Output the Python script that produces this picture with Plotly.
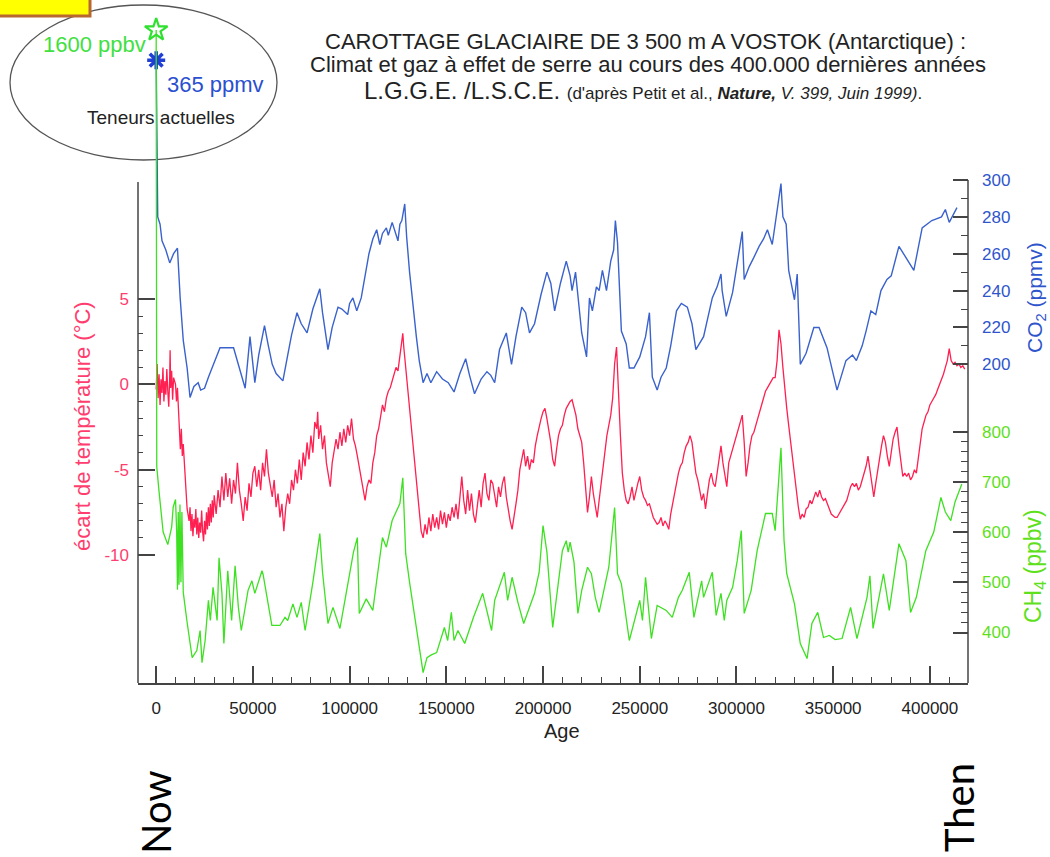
import plotly.graph_objects as go

# ---------------- DATA (ages in thousands of years) ----------------
temp_age = [
    0, 0.5, 1, 1.5, 2, 2.5, 3, 3.5, 4, 4.5,
    5, 5.5, 6, 6.5, 7, 7.2, 7.5, 8, 8.5, 9,
    10, 10.5, 11, 11.5, 12, 12.5, 13, 13.5, 14, 15,
    16, 17, 17.5, 18, 18.5, 19, 19.5, 20, 20.5, 21,
    21.5, 22, 22.5, 23, 23.5, 24, 24.5, 25, 25.5, 26,
    26.5, 27, 27.5, 28, 28.5, 29, 29.5, 30, 31, 32,
    33, 34, 35, 36, 37, 38, 39, 40, 41, 42,
    43, 44, 45, 46, 47, 48, 49, 50, 51, 52,
    53, 54, 55, 56, 57, 58, 59, 60, 61, 62,
    63, 64, 65, 66, 67, 68, 69, 70, 71, 72,
    73, 74, 75, 76, 77, 78, 79, 80, 81, 82,
    83, 83.5, 84, 85, 86, 87, 88, 89, 90, 91,
    92, 93, 94, 95, 96, 97, 98, 99, 100, 101,
    102, 103, 104, 105, 106, 107, 108, 109, 110, 111,
    112, 113, 114, 115, 116, 117, 118, 119, 120, 121,
    122, 123, 124, 125, 126, 127, 127.5, 128, 129, 130,
    131, 132, 133, 134, 135, 136, 137, 138, 139, 140,
    141, 142, 143, 144, 145, 146, 147, 148, 149, 150,
    151, 152, 153, 154, 155, 156, 157, 158, 159, 160,
    161, 162, 163, 164, 165, 166, 167, 168, 169, 170,
    171, 172, 173, 174, 175, 176, 177, 178, 179, 180,
    181, 182, 183, 184, 185, 186, 187, 188, 189, 190,
    191, 192, 193, 194, 195, 196, 197, 198, 199, 200,
    201, 202, 203, 204, 205, 206, 207, 208, 209, 210,
    211, 212, 213, 214, 215, 216, 217, 218, 219, 220,
    221, 222, 223, 224, 225, 226, 227, 228, 229, 230,
    231, 232, 233, 234, 235, 236, 237, 238, 239, 240,
    241, 242, 243, 244, 245, 246, 247, 248, 249, 250,
    251, 252, 253, 254, 255, 256, 257, 258, 259, 260,
    261, 262, 263, 264, 265, 266, 267, 268, 269, 270,
    271, 272, 273, 274, 275, 276, 277, 278, 279, 280,
    281, 282, 283, 284, 285, 286, 287, 288, 289, 290,
    291, 292, 293, 294, 295, 296, 297, 298, 299, 300,
    301, 302, 303, 304, 305, 306, 307, 308, 309, 310,
    311, 312, 313, 314, 315, 316, 317, 318, 319, 320,
    321, 322, 323, 324, 325, 326, 327, 328, 329, 330,
    331, 332, 333, 334, 335, 336, 337, 338, 339, 340,
    341, 342, 343, 344, 345, 346, 347, 348, 349, 350,
    351, 352, 353, 354, 355, 356, 357, 358, 359, 360,
    361, 362, 363, 364, 365, 366, 367, 368, 369, 370,
    371, 372, 373, 374, 375, 376, 377, 378, 379, 380,
    381, 382, 383, 384, 385, 386, 387, 388, 389, 390,
    391, 392, 393, 394, 395, 396, 397, 398, 399, 400,
    401, 402, 403, 404, 405, 406, 407, 408, 409, 410,
    411, 412, 413, 414, 415, 416, 417, 418,
]
temp_c = [
    -0.3, 1.2, -0.8, 0.6, -1.2, 0.3, -0.5, 1.0, -1.0, 0.2,
    -0.6, 0.9, -0.4, -1.3, 0.5, 2.0, -0.2, 0.8, -0.9, 0.4,
    0.0, -1.0, -0.2, -1.6, -2.3, -3.8, -2.6, -4.2, -3.5, -5.5,
    -7.3, -8.0, -7.2, -8.6, -7.6, -8.9, -7.9, -8.4, -7.3, -8.8,
    -7.8, -9.0, -8.1, -8.7, -7.4, -8.6, -9.2, -8.0, -8.8, -7.5,
    -8.5, -7.2, -8.3, -7.0, -8.1, -6.8, -7.8, -6.5, -7.6, -6.2,
    -7.2, -5.4, -6.8, -5.2, -6.6, -5.5, -7.0, -5.6, -6.4, -4.6,
    -6.2, -7.0, -8.0, -6.6, -7.4, -5.8, -6.6, -5.2, -4.8, -6.0,
    -5.0, -6.2, -4.6, -5.4, -3.8, -5.2, -5.8, -6.6, -5.6, -7.2,
    -6.4, -7.8, -7.0, -8.6, -7.2, -6.4, -7.0, -5.6, -6.2, -5.0,
    -5.8, -4.4, -5.6, -4.0, -4.8, -3.4, -4.4, -3.0, -4.0, -2.2,
    -2.6, -1.6, -3.2, -2.4, -3.8, -3.0, -4.6, -5.4, -6.0, -4.6,
    -4.0, -3.2, -3.8, -2.8, -3.6, -2.6, -3.4, -2.4, -3.0, -2.0,
    -3.2, -3.6, -4.2, -4.8, -5.6, -6.2, -6.8, -6.0, -5.6, -5.8,
    -4.6, -4.0, -3.0, -2.6, -1.8, -1.2, -1.6, -0.8, -0.4, -0.2,
    0.2, 0.6, 1.0, 0.8, 1.6, 2.4, 3.0, 2.2, 1.0, -0.2,
    -1.8, -3.0, -4.2, -5.4, -6.6, -7.8, -8.6, -9.0, -8.2, -8.8,
    -7.8, -8.6, -7.6, -8.4, -7.8, -8.5, -7.4, -8.2, -7.5, -8.4,
    -7.6, -8.0, -7.2, -7.8, -7.0, -7.9, -6.8, -5.4, -6.8, -7.6,
    -6.2, -7.4, -6.4, -7.6, -8.1, -7.0, -6.2, -7.2, -5.8, -5.2,
    -6.4, -6.8, -5.6, -5.8, -6.6, -7.2, -6.0, -6.6, -5.8, -5.4,
    -6.6, -7.4, -8.0, -8.5, -7.6, -7.0, -6.2, -5.0, -4.4, -3.8,
    -4.8, -4.2, -5.0, -4.4, -4.6, -3.6, -3.0, -2.4, -2.0, -1.6,
    -1.4, -2.0, -2.6, -3.4, -4.4, -4.8, -3.8, -3.0, -2.6, -2.4,
    -1.8, -1.4, -1.2, -1.0, -0.9, -1.4, -1.8, -2.6, -3.0, -3.4,
    -4.6, -6.0, -7.5, -6.6, -5.4, -6.4, -7.2, -7.8, -6.8, -5.8,
    -4.8, -3.8, -3.0, -2.4, -1.8, -0.8, 1.2, 2.2, -0.8, -3.0,
    -5.2, -6.2, -6.8, -7.0, -6.6, -6.0, -6.8, -6.2, -5.8, -5.4,
    -6.2, -6.6, -6.8, -7.1, -7.0, -7.4, -7.8, -8.0, -8.2, -8.1,
    -7.8, -8.3, -8.0, -8.2, -8.5, -7.6, -7.0, -6.2, -5.6, -5.2,
    -4.8, -4.6, -4.0, -3.6, -3.4, -3.0, -3.4, -4.4, -5.2, -5.6,
    -6.2, -6.8, -6.4, -7.3, -6.4, -5.6, -5.2, -5.8, -6.0, -5.2,
    -4.6, -3.6, -4.6, -5.4, -6.0, -4.6, -4.2, -3.8, -3.4, -3.0,
    -2.6, -2.2, -1.8, -3.4, -5.4, -4.6, -3.6, -3.0, -2.8, -2.4,
    -2.0, -1.6, -1.2, -0.8, -0.4, -0.2, 0.0, 0.2, 0.4, 0.4,
    1.4, 3.2, 2.4, 1.0, -0.4, -1.4, -2.4, -3.4, -4.4, -5.2,
    -6.2, -7.2, -7.9, -7.6, -7.8, -7.3, -7.2, -6.8, -7.0, -6.6,
    -6.3, -6.6, -6.2, -6.6, -6.8, -6.7, -7.0, -7.4, -7.6, -7.7,
    -7.8, -7.8, -7.6, -7.4, -7.2, -7.0, -6.8, -6.4, -6.0, -5.8,
    -6.0, -5.8, -6.2, -6.0, -5.6, -5.2, -4.8, -4.2, -5.0, -6.0,
    -6.6, -5.8, -5.0, -4.2, -3.6, -3.0, -3.4, -4.2, -4.8, -4.0,
    -3.2, -2.8, -2.5, -3.6, -4.6, -5.4, -5.2, -5.4, -5.2, -5.6,
    -5.4, -5.0, -5.2, -4.4, -3.4, -2.6, -2.2, -1.8, -1.6, -1.2,
    -1.0, -0.8, -0.6, -0.3, 0.0, 0.2, 0.6, 1.0, 1.4, 2.1,
    1.4, 1.2, 1.3, 1.1, 1.2, 1.0, 1.1, 0.9,
]

co2_age = [
    0, 0.8, 2, 3, 5, 7, 9, 11, 12.4, 14,
    16, 17.5, 19.5, 21.7, 23, 25, 27, 29, 31, 33,
    37, 40, 43, 46, 48.5, 50, 51, 53, 56, 58,
    60, 62, 65.5, 68, 70, 72.8, 75, 78, 81, 84.6,
    86, 88.8, 91, 94, 96, 99, 100, 101.7, 103.7, 106,
    108, 110, 112, 114, 115.6, 117, 119, 120, 122, 123.5,
    125, 126, 127, 128.5, 129.5, 131, 132.6, 134.5, 136, 138,
    140, 142, 145, 148, 151, 154, 157, 160, 162, 164.6,
    168, 171, 173, 175, 177.5, 181, 183.7, 186, 189, 191,
    193, 195.6, 199, 202, 204, 206, 209, 212, 214, 215,
    216.8, 218, 220, 222.5, 224, 225.5, 227.6, 229, 230.7, 232.8,
    235, 236.5, 237.4, 238.5, 239.5, 240.5, 243, 244.6, 247, 250,
    253, 255, 256.5, 259, 261, 263.7, 266, 269, 271.5, 274.6,
    277, 279, 283, 285, 287.5, 290, 292, 292.6, 294.7, 298,
    300.4, 303, 304, 306.6, 309, 311.7, 314, 316, 318.5, 321,
    323, 324, 325.7, 327, 330, 331.4, 333, 336, 340, 342.7,
    346.8, 349.5, 352, 356.6, 360, 362, 365, 367, 369.5, 372,
    374.7, 377.8, 380, 384, 387.6, 390.7, 391.7, 396, 401, 406,
    408, 410, 411.4, 414,
]
co2_ppmv = [
    365, 280, 276, 267, 262, 255, 260, 263, 236, 213,
    198, 182, 188, 190, 186, 187, 193, 198, 204, 209,
    209, 209, 198, 187, 215, 200, 190, 205, 221, 210,
    200, 195, 191, 205, 216, 228, 222, 217, 230, 241,
    228, 208, 220, 231, 230, 227, 233, 236, 229, 236,
    248, 260, 268, 273, 265, 271, 274, 270, 277, 272,
    267, 276, 278, 287, 269, 250, 233, 215, 202, 190,
    195, 190, 196, 192, 190, 185, 195, 203, 194, 184,
    192, 196, 194, 190, 208, 217, 200, 215, 231, 228,
    217, 222, 238, 250, 244, 229, 244, 256, 248, 240,
    250, 238, 217, 204, 236, 229, 242, 240, 251, 240,
    256, 262, 278, 266, 245, 218, 211, 198, 198, 204,
    215, 228, 193, 186, 193, 198, 210, 229, 233, 231,
    222, 208, 215, 225, 236, 242, 249, 240, 226, 239,
    256, 272, 246, 253, 258, 264, 268, 273, 265, 284,
    298, 280, 276, 251, 235, 249, 200, 206, 220, 220,
    209, 197, 186, 202, 205, 202, 210, 218, 229, 227,
    240, 246, 248, 264, 258, 253, 251, 274, 278, 280,
    284, 277, 280, 285,
]

ch4_age = [
    0, 0.3, 1.5, 3.6, 6, 8, 8.8, 10, 10.6, 11,
    11.4, 11.8, 12.3, 12.8, 13.3, 14, 16, 18.6, 21, 22.7,
    23.7, 25.3, 27, 28, 29.4, 31.5, 32.5, 34, 35, 37,
    39, 40.8, 42.5, 44, 47.5, 49.5, 51, 54.7, 55.3, 59.8,
    64, 66.6, 68, 70.7, 72.8, 75, 77, 81, 84.6, 86,
    88.8, 91.4, 95, 100, 102, 104, 105, 108.6, 112, 114,
    117, 119, 122, 124, 126, 127.5, 129, 131, 133.7, 136,
    138, 140, 142, 145, 149, 150.7, 152.6, 154, 156, 159.5,
    164, 168.8, 171, 173.4, 175, 180, 181.7, 184, 187, 190,
    195.6, 198, 200, 202, 205, 208.5, 210, 212, 213, 214,
    215, 216, 218, 220, 223, 225, 227, 229, 234, 237,
    238.5, 240.5, 244.6, 247, 250, 251.4, 253, 256, 259, 263.7,
    266.8, 270, 272, 275.6, 278, 282, 283, 287.5, 289.5, 292,
    293.7, 295, 298, 300.4, 302.5, 304, 307.6, 310.7, 313, 315,
    318.5, 320, 323, 324.6, 326, 330, 333, 336.5, 339, 342,
    345, 348, 351, 354.6, 359, 362.3, 367.5, 369, 370.6, 374,
    376, 379, 384, 387.6, 390, 393, 397.9, 402, 405.7, 408,
    410.8, 413, 416.5,
]
ch4_ppbv = [
    1600, 730, 680, 600, 575, 610, 650, 665, 600, 485,
    640, 495, 655, 500, 640, 480, 420, 350, 364, 404,
    340, 384, 464, 424, 490, 424, 549, 478, 378, 523,
    424, 533, 450, 404, 484, 503, 478, 523, 515, 414,
    414, 430, 424, 457, 430, 460, 404, 500, 597, 520,
    418, 450, 408, 517, 560, 589, 438, 467, 444, 503,
    589, 570, 623, 640, 657, 708, 557, 500, 430, 370,
    320, 350, 355, 360, 410, 384, 440, 384, 404, 378,
    430, 478, 440, 404, 464, 520, 464, 510, 460, 418,
    478, 520, 613, 560, 410, 523, 563, 583, 560, 580,
    557, 540, 438, 484, 530, 517, 470, 440, 530, 649,
    517, 497, 384, 420, 464, 424, 510, 388, 454, 444,
    430, 470, 484, 520, 430, 503, 470, 520, 434, 478,
    424, 464, 490, 543, 603, 438, 484, 563, 600, 637,
    637, 603, 768, 583, 517, 457, 378, 348, 418, 440,
    390, 394, 386, 388, 450, 388, 470, 513, 408, 480,
    517, 444, 577, 543, 440, 470, 563, 600, 669, 640,
    623, 660, 696,
]

present_age = [0]
present_co2 = [365]
present_ch4 = [1600]

x_tick_vals = [0, 50, 100, 150, 200, 250, 300, 350, 400]
x_tick_text = ["0", "50000", "100000", "150000", "200000", "250000", "300000", "350000", "400000"]
x_minor_vals = [10, 20, 30, 40, 60, 70, 80, 90, 110, 120, 130, 140, 160, 170, 180, 190,
                210, 220, 230, 240, 260, 270, 280, 290, 310, 320, 330, 340, 360, 370, 380,
                390, 410]
temp_tick_vals = [-10, -5, 0, 5]
temp_tick_text = ["-10", "-5", "0", "5"]
temp_minor_vals = [-10, -9, -8, -7, -6, -5, -4, -3, -2, -1, 0, 1, 2, 3, 4, 5]
co2_tick_vals = [200, 220, 240, 260, 280, 300]
co2_minor_vals = [200, 210, 220, 230, 240, 250, 260, 270, 280, 290, 300]
ch4_tick_vals = [400, 500, 600, 700, 800]
ch4_minor_vals = [400, 420, 440, 460, 480, 500, 520, 540, 560, 580, 600, 620, 640, 660,
                  680, 700, 720, 740, 760, 780, 800]

# ---------------- STYLE ----------------
W, H = 1050, 857
PL, PR, PT, PB = 138, 968, 15, 683  # plot area in pixels
FONT = "Liberation Sans, Arial, Helvetica, sans-serif"
RED = "#ff1f50"
RED_TXT = "#ff3d6e"
BLUE = "#3a62cc"
BLUE_TXT = "#2f55cc"
GREEN = "#3ee022"
GREEN_TXT = "#5fe01c"
AXC = "#444444"


def px(x):
    return (x - PL) / (PR - PL)


def py(y):
    return (PB - y) / (PB - PT)


fig = go.Figure()
fig.add_trace(go.Scatter(x=co2_age, y=co2_ppmv, yaxis="y2", mode="lines",
                         line=dict(color=BLUE, width=1.4), showlegend=False, hoverinfo="skip"))
fig.add_trace(go.Scatter(x=temp_age, y=temp_c, yaxis="y", mode="lines",
                         line=dict(color=RED, width=1.3), showlegend=False, hoverinfo="skip"))
fig.add_trace(go.Scatter(x=ch4_age, y=ch4_ppbv, yaxis="y3", mode="lines",
                         line=dict(color=GREEN, width=1.3), showlegend=False, hoverinfo="skip"))
fig.add_trace(go.Scatter(x=present_age, y=present_co2, yaxis="y2", mode="markers",
                         marker=dict(symbol="asterisk-open", size=15, color="#1f3fd6",
                                     line=dict(color="#1f3fd6", width=3.5)),
                         showlegend=False, hoverinfo="skip"))
fig.add_trace(go.Scatter(x=present_age, y=present_ch4, yaxis="y3", mode="markers",
                         marker=dict(symbol="star-open", size=17, color="#2fe02f",
                                     line=dict(color="#2fe02f", width=2.2)),
                         showlegend=False, hoverinfo="skip"))

common_minor = dict(ticks="inside", tickcolor=AXC, tickwidth=1.2)

fig.update_layout(
    width=W, height=H, autosize=False,
    margin=dict(l=PL, r=W - PR, t=PT, b=H - PB, pad=0),
    paper_bgcolor="white", plot_bgcolor="white",
    font=dict(family=FONT, color="#222"),
    showlegend=False,
    xaxis=dict(range=[-9.4, 419.7], showgrid=False, zeroline=False,
               showline=True, linecolor=AXC, linewidth=1.5,
               ticks="inside", ticklen=17, tickwidth=1.5, tickcolor=AXC,
               tickmode="array", tickvals=x_tick_vals, ticktext=x_tick_text,
               tickfont=dict(size=17, color="#222", family=FONT), ticklabelstandoff=9,
               minor=dict(tickmode="array", tickvals=x_minor_vals, ticklen=6, **common_minor)),
    yaxis=dict(range=[-17.51, 21.67], showgrid=False, zeroline=False, showline=False,
               ticks="inside", ticklen=17, tickwidth=1.5, tickcolor=AXC,
               tickmode="array", tickvals=temp_tick_vals, ticktext=temp_tick_text,
               tickfont=dict(size=17, color=RED_TXT, family=FONT), ticklabelstandoff=8,
               minor=dict(tickmode="array", tickvals=temp_minor_vals, ticklen=5, **common_minor)),
    yaxis2=dict(range=[27.1, 389.5], overlaying="y", side="right", anchor="x",
                showgrid=False, zeroline=False, showline=False,
                ticks="inside", ticklen=15, tickwidth=1.5, tickcolor=AXC,
                tickmode="array", tickvals=co2_tick_vals,
                tickfont=dict(size=17, color=BLUE_TXT, family=FONT), ticklabelstandoff=13,
                minor=dict(tickmode="array", tickvals=co2_minor_vals, ticklen=7, **common_minor)),
    yaxis3=dict(range=[299.4, 1630], overlaying="y", side="right", anchor="x",
                showgrid=False, zeroline=False, showline=False,
                ticks="inside", ticklen=15, tickwidth=1.5, tickcolor=AXC,
                tickmode="array", tickvals=ch4_tick_vals,
                tickfont=dict(size=17, color=GREEN_TXT, family=FONT), ticklabelstandoff=13,
                minor=dict(tickmode="array", tickvals=ch4_minor_vals, ticklen=7, **common_minor)),
)

shapes = [
    # left & right axis lines (only over the lower part of the plot area)
    dict(type="line", xref="paper", yref="paper", x0=0, x1=0, y0=0, y1=py(182),
         line=dict(color=AXC, width=1.5)),
    dict(type="line", xref="paper", yref="paper", x0=1, x1=1, y0=0, y1=py(180),
         line=dict(color=AXC, width=1.5)),
    # ellipse around present values
    dict(type="circle", xref="paper", yref="paper", x0=px(10), x1=px(277), y0=py(160), y1=py(5),
         line=dict(color="#555", width=1.3), layer="below"),
    # yellow box at top left corner
    dict(type="rect", xref="paper", yref="paper", x0=px(-6), x1=px(90), y0=py(16), y1=py(-6),
         fillcolor="#ffff00", line=dict(color="#b8682e", width=3)),
]
fig.update_layout(shapes=shapes)


def ann(x, y, text, size, color="#222", angle=0, family=FONT, xanchor="center"):
    return dict(x=px(x), y=py(y), xref="paper", yref="paper", text=text, showarrow=False,
                font=dict(size=size, color=color, family=family), textangle=angle,
                xanchor=xanchor, yanchor="middle")


annotations = [
    ann(645, 41, "CAROTTAGE GLACIAIRE DE 3 500 m A VOSTOK (Antarctique) :", 22),
    ann(648, 65, "Climat et gaz à effet de serre au cours des 400.000 dernières années", 22),
    ann(643, 90, "L.G.G.E. /L.S.C.E. <span style='font-size:17px'>(d'après Petit et al., "
                 "<b><i>Nature,</i></b> <i>V. 399, Juin 1999)</i>.</span>", 24),
    ann(94, 45, "1600 ppbv", 22, "#3fe03f"),
    ann(215, 84, "365 ppmv", 22, "#2a4fd0"),
    ann(161, 117, "Teneurs actuelles", 19, "#222"),
    ann(562, 731, "Age", 20, "#222"),
    ann(82, 426, "écart de température (°C)", 22, RED_TXT, -90),
    ann(1036, 298, "CO<sub>2</sub> (ppmv)", 21, BLUE_TXT, -90),
    ann(1034, 566, "CH<sub>4</sub> (ppbv)", 23, GREEN_TXT, -90),
    ann(156, 812, "Now", 40, "#000", -90, family="Lato, Open Sans, sans-serif"),
    ann(959, 808, "Then", 40, "#000", -90, family="Lato, Open Sans, sans-serif"),
]
fig.update_layout(annotations=annotations)

fig.write_html("out.html", config={"displayModeBar": False},
               post_script="document.body.style.margin='0px';")
